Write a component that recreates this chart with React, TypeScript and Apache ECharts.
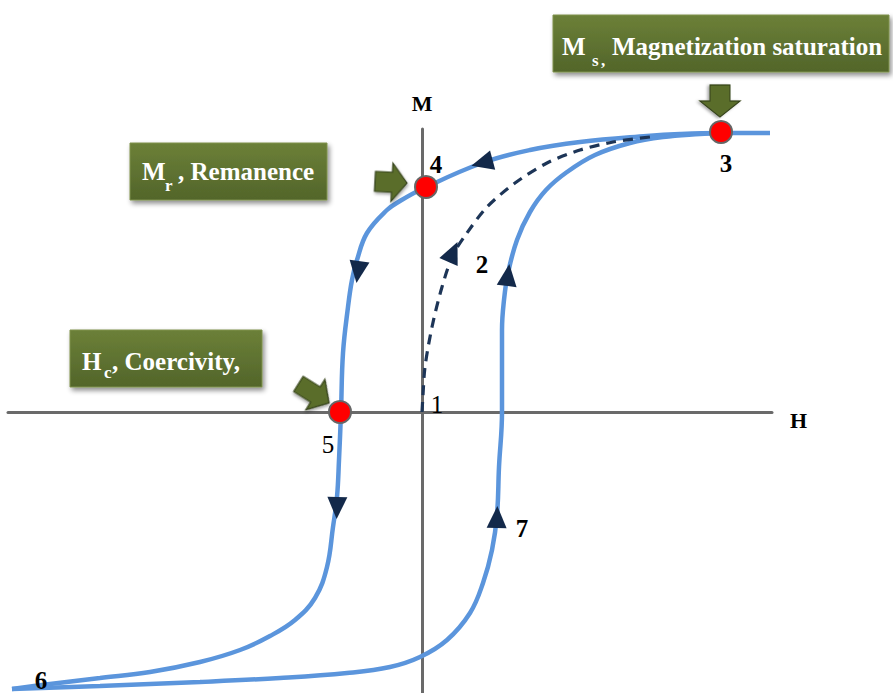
import React, { useEffect, useRef } from "react";
import * as echarts from "echarts";

// Axis extents (H horizontal, M vertical)
const H_MIN = -41.4;
const H_MAX = 35.0;
const M_MIN = -28.1;
const M_MAX = 28.3;

// Upper (descending) branch: 3 -> 4 -> 5 -> 6
const descendingBranch: [number, number][] = [
  [34.8, 27.9], [29.8, 27.9], [25.8, 27.8], [22.5, 27.6], [15.8, 27.0],
  [10.8, 26.2], [6.0, 24.9], [0, 22.3], [-2.2, 21.1], [-3.5, 20.2],
  [-5.5, 17.9], [-6.5, 15.2], [-7.0, 13.2], [-7.4, 10.5], [-7.9, 5.9],
  [-8.1, 0], [-8.3, -4.8], [-8.5, -8.5], [-8.9, -11.5], [-9.5, -15.5],
  [-10.7, -18.6], [-12.7, -20.8], [-15.2, -22.4], [-18.2, -23.8],
  [-22.2, -25.0], [-27.2, -26.0], [-32.2, -26.6], [-37.2, -27.2], [-41.0, -27.7],
];

// Lower (ascending) branch: 6 -> 7 -> 3
const ascendingBranch: [number, number][] = [
  [-41.0, -27.7], [-32.2, -27.4], [-22.2, -27.0], [-14.2, -26.6], [-7.5, -26.1],
  [-3.2, -25.5], [-0.2, -24.5], [2.5, -22.8], [4.8, -20.1], [6.1, -17.1],
  [7.0, -13.8], [7.5, -10.3], [7.7, -5.5], [8.0, 0], [8.0, 8.2], [8.2, 11.2],
  [8.6, 13.9], [9.5, 17.2], [10.8, 20.0], [12.4, 22.2], [14.5, 24.0],
  [17.3, 25.7], [20.8, 26.9], [24.1, 27.5], [27.8, 27.8], [29.8, 27.9],
];

// Initial magnetization curve (dashed): 1 -> 2 -> 3
const initialCurve: [number, number][] = [
  [0, 0], [0.1, 1.7], [0.3, 4.5], [1.0, 8.5], [2.0, 12.5], [3.1, 15.7],
  [4.5, 17.9], [6.5, 20.5], [9.3, 22.9], [12.5, 24.9], [15.8, 26.2],
  [19.1, 27.0], [22.8, 27.5],
];

// Red key points: Ms, Mr, Hc
const keyPointNames = ["Ms", "Mr", "Hc"];
const keyPointValues: [number, number][] = [[29.9, 28.0], [0.4, 22.5], [-8.2, 0]];

// Numbered labels
const pointLabelTexts = ["1", "2", "3", "4", "5", "6", "7"];
const pointLabelPositions: [number, number][] = [
  [1.5, 0.8], [6.0, 14.8], [30.4, 24.9], [1.4, 24.8], [-9.4, -3.2], [-38.1, -26.8], [10.0, -11.6],
];
const pointLabelBold = [false, true, true, true, false, true, true];

// Direction triangles on the curves: [H, M, rotation deg]
const directionMarkers: [number, number, number][] = [
  [6.0, 24.9, 105],
  [-6.4, 14.0, 172],
  [-8.5, -9.6, 178],
  [7.5, -10.5, -2],
  [8.6, 13.7, -7],
  [3.1, 16.0, -24],
];

const GREEN_FILL = {
  type: "linear", x: 0, y: 0, x2: 0, y2: 1,
  colorStops: [
    { offset: 0, color: "#6c8038" },
    { offset: 1, color: "#52652a" },
  ],
};

function blockArrow(tipX: number, tipY: number, angleDeg: number, len: number, shaftW: number, headW: number, headLen: number) {
  return {
    type: "polygon",
    x: tipX,
    y: tipY,
    rotation: (-angleDeg * Math.PI) / 180,
    shape: {
      points: [
        [0, 0], [-headLen, -headW / 2], [-headLen, -shaftW / 2], [-len, -shaftW / 2],
        [-len, shaftW / 2], [-headLen, shaftW / 2], [-headLen, headW / 2],
      ],
    },
    style: {
      fill: "#5a6d2a",
      stroke: "#34411a",
      lineWidth: 1.2,
      shadowColor: "rgba(0,0,0,0.35)",
      shadowBlur: 3,
      shadowOffsetX: 1,
      shadowOffsetY: 2,
    },
    z: 20,
  };
}

function txt(x: number, y: number, text: string, size: number) {
  return {
    type: "text",
    x, y,
    style: {
      text,
      fill: "#ffffff",
      fontSize: size,
      fontFamily: "Liberation Serif",
      fontWeight: "bold",
      align: "left",
      verticalAlign: "middle",
    },
    z: 31,
  };
}

function box(x: number, y: number, w: number, h: number) {
  return {
    type: "rect",
    shape: { x, y, width: w, height: h },
    style: {
      fill: GREEN_FILL,
      stroke: "#7f914c",
      lineWidth: 1,
      shadowColor: "rgba(0,0,0,0.45)",
      shadowBlur: 5,
      shadowOffsetX: 2,
      shadowOffsetY: 3,
    },
    z: 30,
  };
}

export default function App() {
  const ref = useRef<HTMLDivElement>(null);
  useEffect(() => {
    if (!ref.current) return;
    const chart = echarts.init(ref.current, undefined, { renderer: "svg" });
    const blue = "#5b95dc";
    const serif = "Liberation Serif";
    const option: any = {
      animation: false,
      backgroundColor: "#ffffff",
      grid: { left: 8, right: 121, top: 129, bottom: 0, containLabel: false },
      xAxis: {
        type: "value",
        min: H_MIN,
        max: H_MAX,
        name: "H",
        nameLocation: "end",
        nameGap: 18,
        nameTextStyle: {
          fontFamily: serif, fontWeight: "bold", fontSize: 22, color: "#000",
          verticalAlign: "top", lineHeight: 16,
        },
        axisLine: { onZero: true, lineStyle: { color: "#6a6a6a", width: 3 } },
        axisTick: { show: false },
        axisLabel: { show: false },
        splitLine: { show: false },
      },
      yAxis: {
        type: "value",
        min: M_MIN,
        max: M_MAX,
        name: "M",
        nameLocation: "end",
        nameGap: 15,
        nameTextStyle: { fontFamily: serif, fontWeight: "bold", fontSize: 22, color: "#000" },
        axisLine: { onZero: true, lineStyle: { color: "#6a6a6a", width: 3 } },
        axisTick: { show: false },
        axisLabel: { show: false },
        splitLine: { show: false },
      },
      series: [
        {
          type: "line",
          data: descendingBranch,
          smooth: 0.4,
          symbol: "none",
          clip: false,
          lineStyle: { color: blue, width: 4.5 },
          z: 2,
          silent: true,
        },
        {
          type: "line",
          data: ascendingBranch,
          smooth: 0.4,
          symbol: "none",
          clip: false,
          lineStyle: { color: blue, width: 4.5 },
          z: 2,
          silent: true,
        },
        {
          type: "line",
          data: initialCurve,
          smooth: 0.3,
          symbol: "none",
          clip: false,
          lineStyle: { color: "#1d3557", width: 3.2, type: [10, 7] },
          z: 3,
          silent: true,
        },
        {
          type: "scatter",
          data: directionMarkers.map(([h, m, r]) => ({ value: [h, m], symbolRotate: r })),
          symbol: "triangle",
          symbolSize: [20, 22],
          itemStyle: { color: "#13294a", opacity: 1 },
          clip: false,
          z: 4,
          silent: true,
        },
        {
          type: "scatter",
          data: keyPointValues.map((v, i) => ({ value: v, name: keyPointNames[i] })),
          symbol: "circle",
          symbolSize: 22,
          itemStyle: { color: "#ff0000", borderColor: "#666666", borderWidth: 2, opacity: 1 },
          clip: false,
          z: 5,
          silent: true,
        },
        {
          type: "scatter",
          data: pointLabelPositions.map((v, i) => ({
            value: v,
            name: pointLabelTexts[i],
            label: {
              fontWeight: pointLabelBold[i] ? "bold" : "normal",
              fontSize: 25,
              fontFamily: serif,
              color: "#000",
            },
          })),
          symbolSize: 0,
          itemStyle: { opacity: 1 },
          clip: false,
          z: 6,
          silent: true,
          label: {
            show: true,
            position: "inside",
            formatter: "{b}",
            fontFamily: serif,
            fontSize: 25,
            color: "#000",
          },
        },
      ],
      graphic: {
        elements: [
          box(553, 15, 336, 57),
          txt(562, 46.6, "M", 25),
          txt(592, 60.3, "s", 17),
          txt(601, 60.3, ",", 17),
          txt(612, 46.6, "Magnetization saturation", 25),
          box(130, 143, 197, 57),
          txt(142, 171.6, "M", 25),
          txt(165, 185.3, "r", 17),
          txt(178, 171.6, ", Remanence", 25),
          box(70, 330, 192, 57),
          txt(82, 361.6, "H", 25),
          txt(104, 372.3, "c", 17),
          txt(112, 361.6, ", Coercivity,", 25),
          blockArrow(720, 117, 90, 32, 20, 40, 16),
          blockArrow(407, 183, 3, 32, 20, 38, 15),
          blockArrow(329, 403, 32, 36, 18, 36, 16),
        ],
      },
    };
    chart.setOption(option);
    return () => chart.dispose();
  }, []);
  return (
    <div
      ref={ref}
      style={{ position: "fixed", left: 0, top: 0, width: 893, height: 693, background: "#fff" }}
    />
  );
}
